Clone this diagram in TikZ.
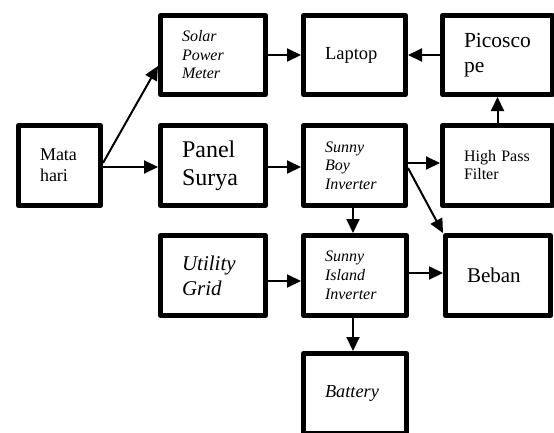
\documentclass[tikz,border=0pt]{standalone}
\usepackage{fontspec}
\setmainfont{Liberation Serif}
\usetikzlibrary{arrows.meta,calc}
\begin{document}
\begin{tikzpicture}[x=1pt,y=-1pt,
  box/.style 2 args={draw, line width=5pt, line join=round, inner xsep=21.5pt, inner ysep=0pt,
    align=left, minimum width=#1pt, minimum height=#2pt, text width=#1pt-43pt},
  arr/.style={line width=2pt, -{Triangle[length=14pt,width=13pt]}},
  fA/.style={font=\fontsize{18}{21}\selectfont},
  fB/.style={font=\fontsize{24}{28}\selectfont},
  fC/.style={font=\fontsize{16}{18.5}\selectfont\itshape},
  fD/.style={font=\fontsize{18.5}{21}\selectfont},
  fE/.style={font=\fontsize{21.5}{25}\selectfont},
  fF/.style={font=\fontsize{16}{18}\selectfont},
  fG/.style={font=\fontsize{21}{25}\selectfont\itshape},
  fH/.style={font=\fontsize{16}{19}\selectfont\itshape},
  fI/.style={font=\fontsize{18.3}{21}\selectfont\itshape},
  fJ/.style={font=\fontsize{21}{25}\selectfont}]
\clip (0,0) rectangle (554,432);
\node[box={82}{80}, fA] (mata) at (59.5,165.5) {Mata\\hari};
\node[box={105}{79}, fC] (spm) at (213,55) {Solar\\Power\\Meter};
\node[box={105}{80}, fB] (panel) at (213,165.5) {Panel\\Surya};
\node[box={102}{79}, fD] (laptop) at (354.5,55) {Laptop};
\node[box={110}{79}, fE] (pico) at (497.5,55) {Picosco\\pe};
\node[box={102}{80}, fC] (sbi) at (354.5,165.5) {Sunny\\Boy\\Inverter};
\node[box={110}{80}, fF] (hpf) at (497.5,165.5) {High Pass\\Filter};
\node[box={105}{80}, fG] (ug) at (213,275.5) {Utility\\Grid};
\node[box={103}{80}, fH] (sii) at (355,275.5) {Sunny\\Island\\Inverter};
\node[box={105}{80}, fJ] (beban) at (498,275.5) {Beban};
\node[box={103}{80}, fI] (bat) at (355,393.5) {Battery};
\draw[arr] ($(mata.east)+(0,-2.5)$) -- ($(spm.west)+(0,11)$);
\draw[arr] ($(mata.east)+(0,1.5)$) -- ($(panel.west)+(0,1.5)$);
\draw[arr] (spm.east) -- (laptop.west);
\draw[arr] (pico.west) -- (laptop.east);
\draw[arr] ($(panel.east)+(0,1.5)$) -- ($(sbi.west)+(0,1.5)$);
\draw[arr] ($(sbi.east)+(0,-2.5)$) -- ($(hpf.west)+(0,-2.5)$);
\draw[arr] (hpf.north) -- (pico.south);
\draw[arr] ($(sbi.east)+(0,2.5)$) -- (beban.north west);
\draw[arr] ($(sbi.south)+(-1.5,0)$) -- ($(sii.north)+(-2,0)$);
\draw[arr] ($(ug.east)+(0,5.5)$) -- ($(sii.west)+(0,5.5)$);
\draw[arr] ($(sii.east)+(0,-2.5)$) -- ($(beban.west)+(0,-2.5)$);
\draw[arr] ($(sii.south)+(-2,0)$) -- ($(bat.north)+(-2,0)$);
\end{tikzpicture}
\end{document}
